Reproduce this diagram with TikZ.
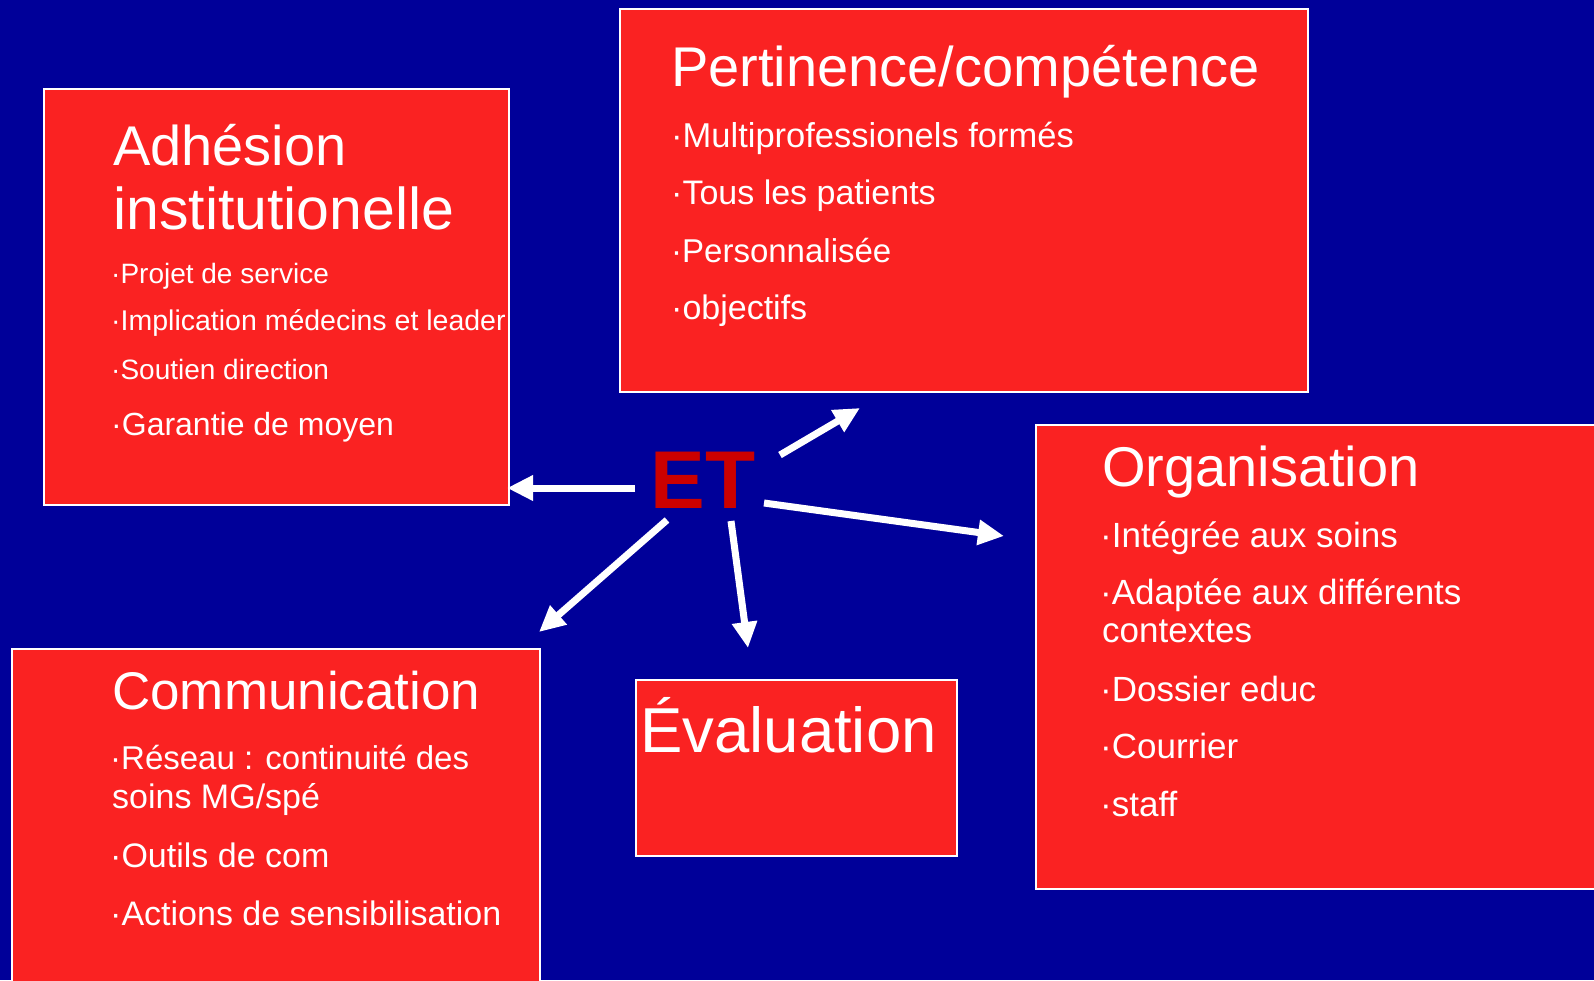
\documentclass[tikz,border=0pt]{standalone}
\usepackage{fontspec}
\setmainfont{Liberation Sans}
\usetikzlibrary{arrows.meta}
\definecolor{bg}{RGB}{0,0,153}
\definecolor{boxred}{RGB}{250,34,34}
\definecolor{etred}{RGB}{204,0,0}
\newcommand{\fs}[1]{\fontsize{#1pt}{#1pt}\selectfont}
\newcommand{\bul}{·}
\begin{document}
\begin{tikzpicture}[x=1pt,y=-1pt,
  panel/.style={draw=white, line width=1.5pt, fill=boxred, anchor=north west, inner sep=0pt},
  txt/.style={anchor=base west, inner sep=0pt, text=white},
  conn/.style={draw=white, line width=7pt, -{Triangle[length=26pt,width=24pt]}}
]
\useasboundingbox (0,0) rectangle (1594,980);
\fill[bg] (0,0) rectangle (1594,980);
\clip (0,0) rectangle (1594,980);

% panels
\node[panel, minimum width=465pt, minimum height=416pt] (adh) at (43,88) {};
\node[panel, minimum width=688pt, minimum height=383pt] (per) at (619,8) {};
\node[panel, minimum width=600pt, minimum height=464pt] (org) at (1035,424) {};
\node[panel, minimum width=528pt, minimum height=360pt] (com) at (11,648) {};
\node[panel, minimum width=321pt, minimum height=176pt] (eva) at (635,679) {};

% Adhesion texts
\node[txt, font=\fs{56}] (adh1) at (113,165) {Adhésion};
\node[txt, font=\fs{59}] (adh2) at (113,229) {institutionelle};
\node[txt, font=\fs{28}] (adh3) at (111,283) {\bul Projet de service};
\node[txt, font=\fs{28.5}] (adh4) at (111,330) {\bul Implication médecins et leader};
\node[txt, font=\fs{28}] (adh5) at (111,379) {\bul Soutien direction};
\node[txt, font=\fs{32}] (adh6) at (111,435) {\bul Garantie de moyen};

% Pertinence texts
\node[txt, font=\fs{56}] (per1) at (671,86) {Pertinence/compétence};
\node[txt, font=\fs{34.5}] (per2) at (671,147) {\bul Multiprofessionels formés};
\node[txt, font=\fs{34}] (per3) at (671,204) {\bul Tous les patients};
\node[txt, font=\fs{33}] (per4) at (671,262) {\bul Personnalisée};
\node[txt, font=\fs{34}] (per5) at (671,319) {\bul objectifs};

% Organisation texts
\node[txt, font=\fs{56}] (org1) at (1102,486) {Organisation};
\node[txt, font=\fs{35}] (org2) at (1100,547) {\bul Intégrée aux soins};
\node[txt, font=\fs{35}] (org3) at (1100,604) {\bul Adaptée aux différents};
\node[txt, font=\fs{35}] (org4) at (1102,642) {contextes};
\node[txt, font=\fs{35}] (org5) at (1100,701) {\bul Dossier educ};
\node[txt, font=\fs{35}] (org6) at (1100,758) {\bul Courrier};
\node[txt, font=\fs{35}] (org7) at (1100,816) {\bul staff};

% Communication texts
\node[txt, font=\fs{53}] (com1) at (112,709) {Communication};
\node[txt, font=\fs{33}] (com2) at (110,769) {\bul Réseau : continuité des};
\node[txt, font=\fs{34}] (com3) at (112,808) {soins MG/spé};
\node[txt, font=\fs{34}] (com4) at (110,867) {\bul Outils de com};
\node[txt, font=\fs{34}] (com5) at (110,925) {\bul Actions de sensibilisation};

% Evaluation
\node[txt, font=\fs{63.5}] (eva1) at (640,752) {Évaluation};

% ET
\node[anchor=base, inner sep=0pt, text=etred, font=\fs{82}\bfseries] (et) at (703,508) {ET};

% connectors
\coordinate (s1) at (635,488); \coordinate (e1) at (507,488);
\coordinate (s2) at (780,455); \coordinate (e2) at (860,408);
\coordinate (s3) at (764,503); \coordinate (e3) at (1004,536);
\coordinate (s4) at (731,521); \coordinate (e4) at (748,648);
\coordinate (s5) at (667,520); \coordinate (e5) at (539,632);
\draw[conn] (s1) -- (e1);
\draw[conn] (s2) -- (e2);
\draw[conn] (s3) -- (e3);
\draw[conn] (s4) -- (e4);
\draw[conn] (s5) -- (e5);
\end{tikzpicture}
\end{document}
